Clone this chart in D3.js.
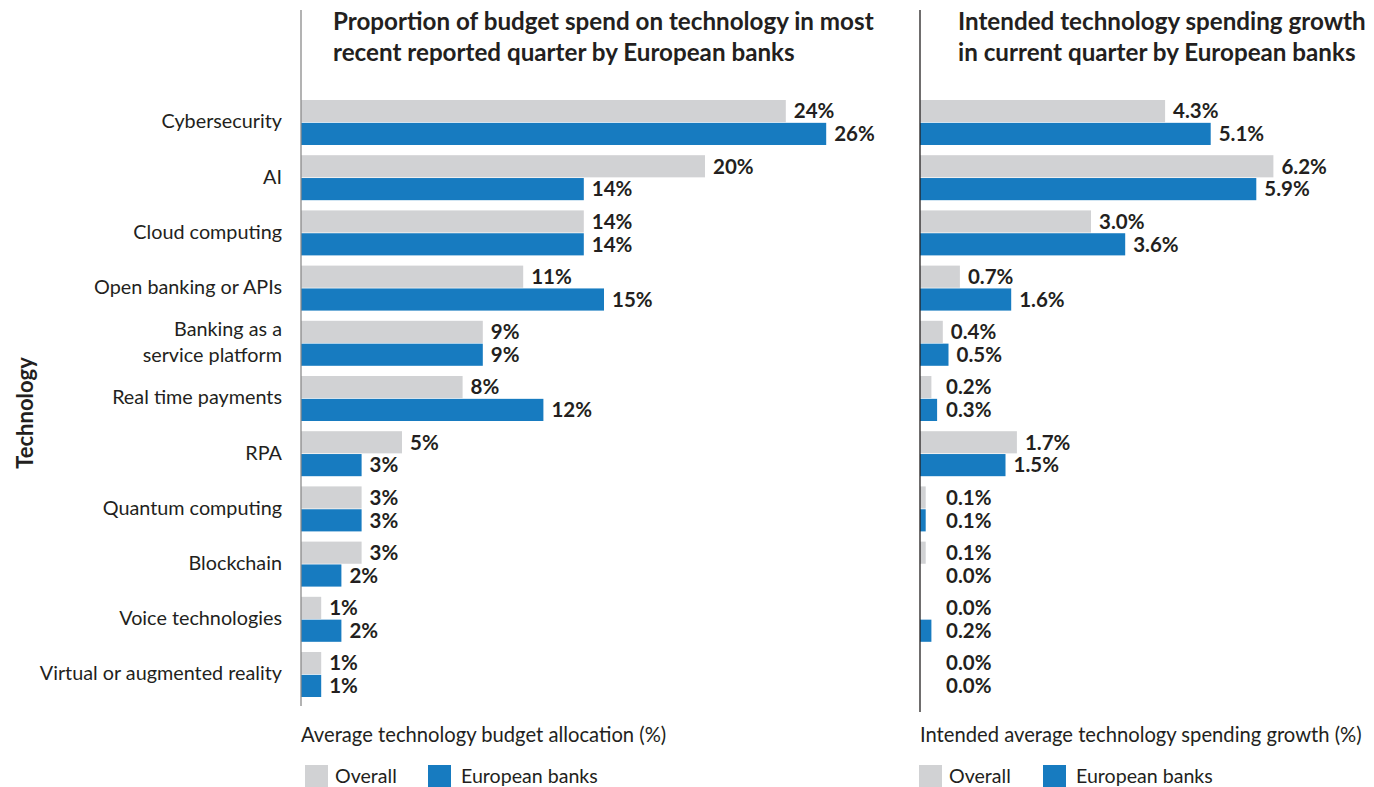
<!DOCTYPE html>
<html>
<head>
<meta charset="utf-8">
<script src="https://cdn.jsdelivr.net/npm/d3@7/dist/d3.min.js"></script>
<style>
  html, body { margin: 0; padding: 0; background: #fff; }
  svg { display: block; font-family: Lato, "Open Sans", sans-serif; }
</style>
</head>
<body>
<svg id="chart" width="1374" height="787"></svg>
<script>
// Technology categories (top to bottom)
const categories = [
  "Cybersecurity", "AI", "Cloud computing", "Open banking or APIs",
  "Banking as a\nservice platform", "Real time payments", "RPA",
  "Quantum computing", "Blockchain", "Voice technologies",
  "Virtual or augmented reality"
];

// Average technology budget allocation (%)
const budgetOverall  = [24, 20, 14, 11, 9, 8, 5, 3, 3, 1, 1];
const budgetEuropean = [26, 14, 14, 15, 9, 12, 3, 3, 2, 2, 1];

// Intended average technology spending growth (%)
const growthOverall  = [4.3, 6.2, 3.0, 0.7, 0.4, 0.2, 1.7, 0.1, 0.1, 0.0, 0.0];
const growthEuropean = [5.1, 5.9, 3.6, 1.6, 0.5, 0.3, 1.5, 0.1, 0.0, 0.2, 0.0];

const seriesNames = ["Overall", "European banks"];
const colors = { "Overall": "#d1d2d4", "European banks": "#177bc0" };
const textColor = "#231f20";

const svg = d3.select("#chart");

// shared vertical band scale for the category groups
const y = d3.scaleBand()
  .domain(categories)
  .range([100, 697])
  .paddingInner(0.185)
  .paddingOuter(0.0);
const sub = d3.scaleBand().domain(seriesNames).range([0, y.bandwidth()]).paddingInner(0.03);

function panel(opts) {
  const g = svg.append("g");
  const x = d3.scaleLinear().domain([0, opts.max]).range([opts.x0, opts.x1]);
  const rows = categories.map((c, i) => ({ c, vals: [opts.overall[i], opts.european[i]] }));

  const grp = g.selectAll("g.row").data(rows).join("g")
    .attr("transform", d => `translate(0,${y(d.c)})`);

  grp.selectAll("rect").data(d => seriesNames.map((s, k) => ({ s, v: d.vals[k] })))
    .join("rect")
    .attr("x", x(0))
    .attr("y", d => sub(d.s))
    .attr("width", d => x(d.v) - x(0))
    .attr("height", sub.bandwidth())
    .attr("fill", d => colors[d.s]);

  grp.selectAll("text").data(d => seriesNames.map((s, k) => ({ s, v: d.vals[k] })))
    .join("text")
    .attr("x", d => Math.max(x(d.v) + 8, x(0) + opts.minLabel))
    .attr("y", d => sub(d.s) + sub.bandwidth() / 2)
    .attr("dy", "0.36em")
    .attr("font-size", 20.5)
    .attr("font-weight", 700)
    .attr("fill", textColor)
    .text(d => opts.fmt(d.v));

  // vertical axis line
  g.append("line")
    .attr("x1", x(0)).attr("x2", x(0))
    .attr("y1", 10).attr("y2", opts.axisBottom)
    .attr("stroke", opts.axisColor).attr("stroke-width", 1.3);

  // title
  const t = g.append("text")
    .attr("x", opts.titleX).attr("y", 30)
    .attr("font-size", 24.2).attr("font-weight", 700).attr("fill", textColor);
  opts.title.forEach((line, i) => t.append("tspan").attr("x", opts.titleX).attr("dy", i ? 31 : 0).text(line));

  // x-axis title
  g.append("text")
    .attr("x", opts.x0).attr("y", 742)
    .attr("font-size", 20.2).attr("fill", textColor)
    .text(opts.axisTitle);

  // legend
  const leg = g.selectAll("g.leg").data(seriesNames).join("g")
    .attr("transform", (d, i) => `translate(${opts.legendX[i]},765)`);
  leg.append("rect").attr("width", 23).attr("height", 22).attr("fill", d => colors[d]);
  leg.append("text").attr("x", (d, i) => i ? 33 : 30).attr("y", 18)
    .attr("font-size", 19.6).attr("fill", textColor).text(d => d);
  return x;
}

panel({
  x0: 301, x1: 301 + 20.2 * 28, max: 28,
  overall: budgetOverall, european: budgetEuropean,
  fmt: v => `${v}%`, minLabel: 0,
  axisBottom: 706, axisColor: "#8a8a8a",
  titleX: 333,
  title: ["Proportion of budget spend on technology in most", "recent reported quarter by European banks"],
  axisTitle: "Average technology budget allocation (%)",
  legendX: [305, 428]
});

panel({
  x0: 920, x1: 920 + 57 * 7, max: 7,
  overall: growthOverall, european: growthEuropean,
  fmt: v => `${v.toFixed(1)}%`, minLabel: 26,
  axisBottom: 712, axisColor: "#231f20",
  titleX: 958,
  title: ["Intended technology spending growth", "in current quarter by European banks"],
  axisTitle: "Intended average technology spending growth (%)",
  legendX: [919, 1043]
});

// category labels
const cl = svg.append("g").selectAll("text").data(categories).join("text")
  .attr("text-anchor", "end")
  .attr("font-size", 19.8)
  .attr("fill", textColor)
  .attr("transform", d => `translate(282,${y(d) + y.bandwidth() / 2 - 1})`);
cl.each(function(d) {
  const lines = d.split("\n");
  const t = d3.select(this);
  lines.forEach((ln, i) => {
    t.append("tspan").attr("x", 0)
      .attr("y", (i - (lines.length - 1) / 2) * 26)
      .attr("dy", "0.35em").text(ln);
  });
});

// y-axis title
svg.append("text")
  .attr("transform", "translate(25,413) rotate(-90)")
  .attr("text-anchor", "middle").attr("dy", "0.35em")
  .attr("font-size", 22).attr("font-weight", 700).attr("fill", textColor)
  .text("Technology");
</script>
</body>
</html>
